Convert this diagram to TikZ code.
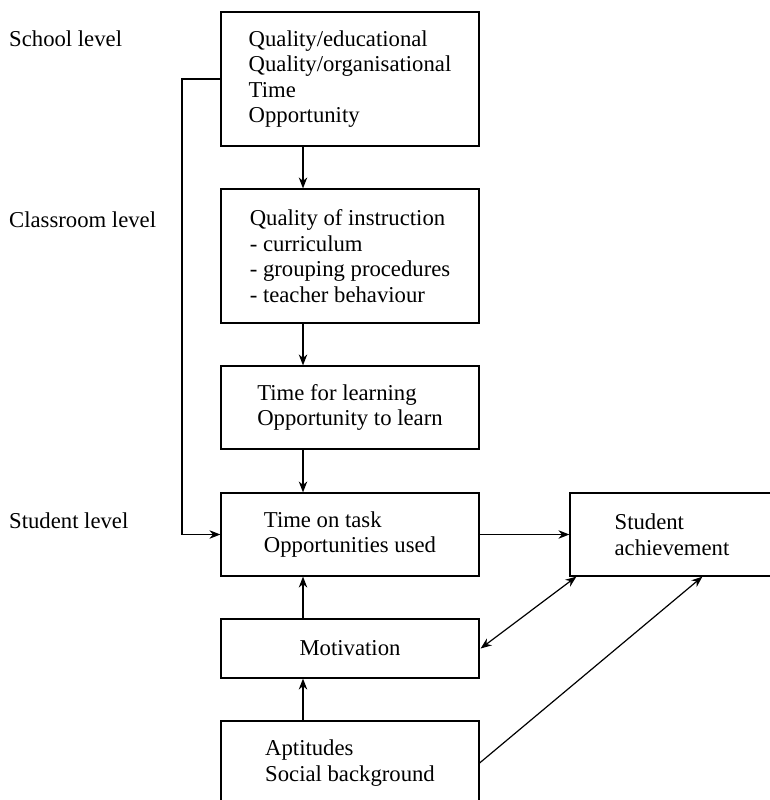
\documentclass[tikz,border=0pt]{standalone}
\usepackage{fontspec}
\setmainfont{Liberation Serif}
\usetikzlibrary{arrows.meta}
\tikzset{
  arr/.tip={Stealth[length=11pt,width=8.5pt]},
  box/.style={draw, line width=1.2pt, align=left, minimum width=258pt, inner sep=0pt},
  lvl/.style={anchor=base west, inner sep=0pt},
  conn/.style={line width=1.2pt, -arr},
  dconn/.style={line width=1.2pt, arr-arr}
}
\begin{document}
\begin{tikzpicture}[x=1pt,y=1pt,font=\fontsize{22.7}{25.5}\selectfont]
\useasboundingbox (0,0) rectangle (770,-800);
% levels
\node[lvl] (lschool) at (9,-47) {School level};
\node[lvl] (lclass) at (9,-227) {Classroom level};
\node[lvl] (lstudent) at (9,-528) {Student level};
% boxes
\node[box, minimum height=134pt] (school) at (350,-79)
  {Quality/educational\\Quality/organisational\\Time\\Opportunity};
\node[box, minimum height=134pt] (class) at (350,-256)
  {Quality of instruction\\- curriculum\\- grouping procedures\\- teacher behaviour};
\node[box, minimum height=83pt] (time) at (350,-407.5)
  {Time for learning\\Opportunity to learn};
\node[box, minimum height=83pt] (student) at (350,-534.5)
  {Time on task\\Opportunities used};
\node[box, minimum height=83pt, minimum width=204pt] (achieve) at (672,-534.5)
  {Student\\achievement};
\node[box, minimum height=59pt] (motiv) at (350,-648.5) {Motivation};
\node[box, minimum height=84pt] (apt) at (350,-763)
  {Aptitudes\\Social background};
% connectors
\coordinate (bend) at (182,-79);
\draw[conn] (school.west) -- (bend) |- (student.west);
\foreach \a/\b in {school/class,class/time,time/student}
  \draw[conn] ([xshift=-47pt]\a.south) -- ([xshift=-47pt]\b.north);
\foreach \a/\b in {apt/motiv,motiv/student}
  \draw[conn] ([xshift=-47pt]\a.north) -- ([xshift=-47pt]\b.south);
\draw[conn] (student.east) -- (achieve.west);
\draw[dconn] ([xshift=1pt]motiv.east) -- ([xshift=7pt]achieve.south west);
\draw[conn] (apt.east) -- ([xshift=133pt]achieve.south west);
\end{tikzpicture}
\end{document}
